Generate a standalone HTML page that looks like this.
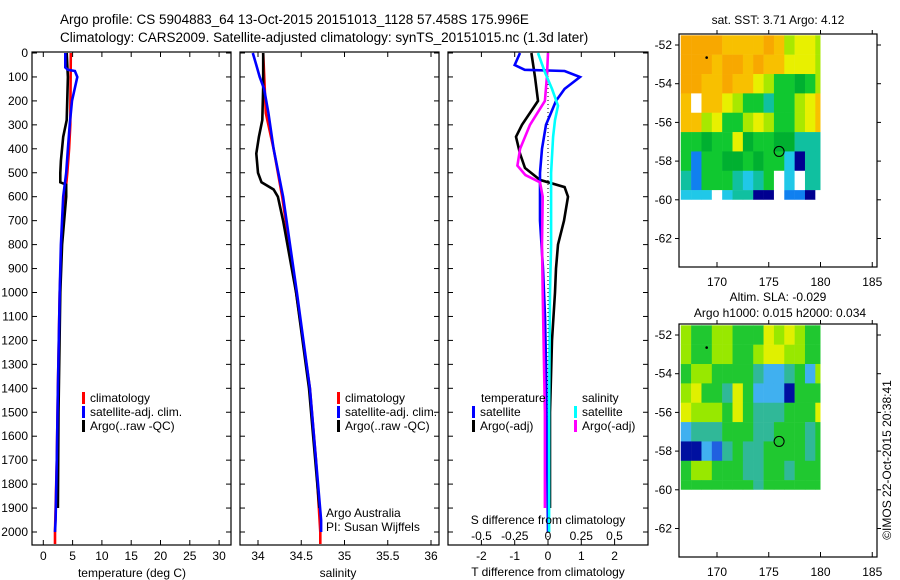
<!DOCTYPE html>
<html><head><meta charset="utf-8"><style>
body{margin:0;background:#fff}
svg{display:block;font-family:"Liberation Sans",sans-serif}
</style></head><body>
<svg id="s" width="900" height="580" xmlns="http://www.w3.org/2000/svg">
<text x="60" y="24" font-size="13.5">Argo profile: CS 5904883_64 13-Oct-2015 20151013_1128 57.458S 175.996E</text>
<text x="60" y="42" font-size="13.5">Climatology: CARS2009. Satellite-adjusted climatology: synTS_20151015.nc (1.3d later)</text>
</svg>
<script>
// ---- profile data (depth m, value) ----
const tDepthClim=[0,300,400,500,600,800,1000,1400,1700,2000,2050];
const tClim=[4.7,4.6,4.4,4.1,3.7,3.1,2.8,2.5,2.3,2.0,2.0];
const tDepthSat=[0,60,70,75,100,200,300,400,500,600,800,1000,1400,1700,1950,2000];
const tSat=[3.75,3.75,4.2,5.4,5.8,4.9,4.5,4.2,3.9,3.4,3.0,2.8,2.5,2.3,2.1,2.0];
const tDepthArgo=[0,100,280,350,450,500,540,550,600,800,1000,1500,1900];
const tArgo=[4.0,4.2,4.0,3.4,3.0,2.9,2.9,3.9,3.9,3.2,2.9,2.6,2.5];
const sDepthClim=[0,250,400,600,1000,1400,1700,2000,2050];
const sClim=[34.06,34.09,34.18,34.28,34.44,34.6,34.67,34.72,34.72];
const sDepthSat=[0,50,100,150,250,400,600,1000,1400,1700,1950,2000];
const sSat=[33.94,33.98,34.02,34.07,34.12,34.18,34.29,34.45,34.6,34.67,34.73,34.73];
const sDepthArgo=[0,140,280,350,420,500,540,570,600,700,1000,1400,1900];
const sArgo=[34.06,34.06,34.05,34.01,33.98,34.0,34.04,34.18,34.23,34.29,34.44,34.59,34.71];
// difference profiles
const dTSatDepth=[0,50,70,75,100,150,200,250,300,400,500,700,900,1100,1300,2000];
const dTSat=[-0.84,-1.0,-0.7,0.5,0.96,0.5,0.24,0.09,-0.06,-0.18,-0.24,-0.24,-0.15,-0.09,-0.06,0];
const dTArgoDepth=[0,100,200,250,300,350,420,480,530,560,600,700,800,900,1000,1200,1500,1900];
const dTArgo=[-0.5,-0.39,-0.3,-0.54,-0.78,-0.96,-0.84,-0.69,-0.24,0.5,0.6,0.48,0.3,0.24,0.21,0.12,0.06,0.06];
const dSArgoDepth=[0,100,200,300,400,470,510,540,600,800,1000,1500,1900];
const dSArgo=[0,-0.008,-0.023,-0.135,-0.21,-0.23,-0.17,-0.06,-0.04,-0.045,-0.04,-0.023,-0.023];
const dSSatDepth=[0,80,150,220,280,350,500,800,1000,1500,2000];
const dSSat=[-0.075,-0.023,0.03,0.075,0.053,0.038,0.023,0.023,0.015,0.008,0.008];
const depthTicks=[0,100,200,300,400,500,600,700,800,900,1000,1100,1200,1300,1400,1500,1600,1700,1800,1900,2000];
const tTicks=[0,5,10,15,20,25,30];
const sTicks=[34,34.5,35,35.5,36];
const dTTicks=[-2,-1,0,1,2];
const dSTicks=[-0.5,-0.25,0,0.25,0.5];
// ---- map data ----
const sstRows=["OOOOooooOoyYYy","OOOoOOoOooYYYy","OOooOooYyGGgGy","o.ooYyGGTGGyYo","ooyYGGyYyGGyYo","GGgGGYgGGggTTT","GBGGggGgGGCNTT","TBGGGTCTG.C.TT","CCC.CTTNN.BBN."];
const slaRows=["yGGyyGGGYyYyGG","yGGyyGGyYYyyGG","GyyGGGGTCCTGCy","yYGGTYGCCCNGGG","YyyyGYGTTTGGGY","CTTTGGGTTGGGTG","NNCBTGTTGGGGTG","GyyGGGTTGGTGGG","GGGGGGGTGGGGGG"];
const mapLonTicks=[170,175,180,185];
const mapLatTicks=[-52,-54,-56,-58,-60,-62];
const argoLon=176, argoLat=-57.5;

const NS="http://www.w3.org/2000/svg";
const S=document.getElementById('s');
function el(t,a,p){const e=document.createElementNS(NS,t);for(const k in a)e.setAttribute(k,a[k]);(p||S).appendChild(e);return e;}
function txt(x,y,s,a,p){const e=el('text',Object.assign({x:x,y:y,'font-size':12},a||{}),p);e.textContent=s;return e;}
const yD=d=>53+d*0.2395;

function panel(name,x0,x1,xf,ticks,fmt,label){
  const g=el('g',{});
  
  
  el('rect',{x:x0,y:52,width:x1-x0,height:493,fill:'none',stroke:'#000','stroke-width':1.2},g);
  depthTicks.forEach(d=>{const y=yD(d);
    el('line',{x1:x0,x2:x0+5,y1:y,y2:y,stroke:'#000'},g);
    el('line',{x1:x1,x2:x1-5,y1:y,y2:y,stroke:'#000'},g);});
  ticks.forEach(v=>{const x=xf(v);
    el('line',{x1:x,x2:x,y1:545,y2:540,stroke:'#000'},g);
    el('line',{x1:x,x2:x,y1:52,y2:57,stroke:'#000'},g);
    if(label){const t=txt(x,560,fmt(v),{'text-anchor':'middle'},g);
      
      }
  });
  return g;
}
function line(g,nm,ds,vs,xf,col,w){
  const pts=ds.map((d,i)=>xf(vs[i]).toFixed(1)+','+yD(d).toFixed(1)).join(' ');
  const p=el('polyline',{points:pts,fill:'none',stroke:col,'stroke-width':w||2.6},g);
  
  
}
function legend(g,x,y,items){
  items.forEach((it,i)=>{
    el('rect',{x:x,y:y+i*14-10,width:3,height:12,fill:it[1]},g);
    txt(x+8,y+i*14,it[0],{},g);
  });
}
depthTicks.forEach(d=>{const t=txt(28,yD(d)+4,String(d),{'text-anchor':'end'});
  
  });

const xT=v=>43.3+v*5.86;
const g1=panel('temperature-panel',32,231,xT,tTicks,String,true);
line(g1,'temp-climatology',tDepthClim,tClim,xT,'#f00');
line(g1,'temp-argo',tDepthArgo,tArgo,xT,'#000');
line(g1,'temp-satellite',tDepthSat,tSat,xT,'#00f');
legend(g1,82,402,[['climatology','#f00'],['satellite-adj. clim.','#00f'],['Argo(..raw -QC)','#000']]);
txt(132,577,'temperature (deg C)',{'text-anchor':'middle'},g1);

const xS=v=>258+(v-34)*86.5;
const g2=panel('salinity-panel',240,439,xS,sTicks,String,true);
line(g2,'sal-climatology',sDepthClim,sClim,xS,'#f00');
line(g2,'sal-argo',sDepthArgo,sArgo,xS,'#000');
line(g2,'sal-satellite',sDepthSat,sSat,xS,'#00f');
legend(g2,337,402,[['climatology','#f00'],['satellite-adj. clim.','#00f'],['Argo(..raw -QC)','#000']]);
txt(326,517,'Argo Australia',{},g2);
txt(326,531,'PI: Susan Wijffels',{},g2);
txt(338,577,'salinity',{'text-anchor':'middle'},g2);

const xdT=v=>548+v*33.3, xdS=v=>548+v*133;
const g3=panel('difference-panel',448,648,xdT,dTTicks,v=>String(v),true);
el('line',{x1:548,x2:548,y1:52,y2:545,stroke:'#000','stroke-dasharray':'1,3'},g3);
line(g3,'dt-argo',dTArgoDepth,dTArgo,xdT,'#000');
line(g3,'dt-satellite',dTSatDepth,dTSat,xdT,'#00f');
line(g3,'ds-argo',dSArgoDepth,dSArgo,xdS,'#f0f');
line(g3,'ds-satellite',dSSatDepth,dSSat,xdS,'#0ff');
txt(481,402,'temperature',{},g3);
legend(g3,472,416,[['satellite','#00f'],['Argo(-adj)','#000']]);
txt(582,402,'salinity',{},g3);
legend(g3,574,416,[['satellite','#0ff'],['Argo(-adj)','#f0f']]);
txt(548,524,'S difference from climatology',{'text-anchor':'middle'},g3);
dSTicks.forEach(v=>txt(xdS(v),540,String(v),{'text-anchor':'middle'},g3));
txt(548,576,'T difference from climatology',{'text-anchor':'middle'},g3);

const pal={O:'#f8a800',o:'#f8c000',Y:'#e8f000',y:'#a8e800',G:'#10c830',g:'#00b030',T:'#10c0a0',C:'#20c8e8',B:'#1080f0',N:'#000090','.':'#fff'};
const palS={Y:'#e0f000',y:'#98e800',G:'#20c830',T:'#30b898',C:'#40b0f0',B:'#2060e0',N:'#0010a0'};
function map(name,top,rows,pl){
  const lonX=l=>717+(l-170)*10.35;
  const g=el('g',{});
  
  
  const latY=l=>top+11+(-52-l)*19.35;
  const cid='c'+top;
  const cp=el('clipPath',{id:cid},g);
  el('rect',{x:679,y:top,width:lonX(180)-679,height:latY(-60)-top},cp);
  const cg=el('g',{'clip-path':'url(#'+cid+')'},g);
  rows.forEach((r,i)=>{[...r].forEach((c,j)=>{
    const lon0=166.5+j, lat0=-51.5-i;
    const cell=el('rect',{x:lonX(lon0),y:latY(lat0),width:10.6,height:19.6,fill:pl[c]},cg);
    
    
  });});
  el('rect',{x:679,y:top,width:198,height:233,fill:'none',stroke:'#000','stroke-width':1.2},g);
  mapLonTicks.forEach(l=>{const x=lonX(l);
    el('line',{x1:x,x2:x,y1:top+233,y2:top+228,stroke:'#000'},g);
    el('line',{x1:x,x2:x,y1:top,y2:top-4,stroke:'#000'},g);
    txt(x,top+252,String(l),{'text-anchor':'middle'},g);});
  mapLatTicks.forEach(l=>{const y=latY(l);
    el('line',{x1:679,x2:675,y1:y,y2:y,stroke:'#000'},g);
    el('line',{x1:877,x2:881,y1:y,y2:y,stroke:'#000'},g);
    txt(672,y+4,String(l),{'text-anchor':'end'},g);});
  el('circle',{cx:lonX(argoLon),cy:latY(argoLat),r:5,fill:'none',stroke:'#000','stroke-width':1},g);
  el('circle',{cx:lonX(169),cy:latY(-52.65),r:1.3,fill:'#000'},g);
  return g;
}
map('sst-map',34,sstRows,pal);
txt(778,24,'sat. SST: 3.71 Argo: 4.12',{'text-anchor':'middle'});
map('sla-map',324,slaRows,palS);
txt(778,301,'Altim. SLA: -0.029',{'text-anchor':'middle'});
txt(780,317,'Argo h1000: 0.015 h2000: 0.034',{'text-anchor':'middle'});
const c=txt(0,0,'©IMOS 22-Oct-2015 20:38:41',{'text-anchor':'middle',transform:'translate(891,460) rotate(-90)'});


</script>
</body></html>
